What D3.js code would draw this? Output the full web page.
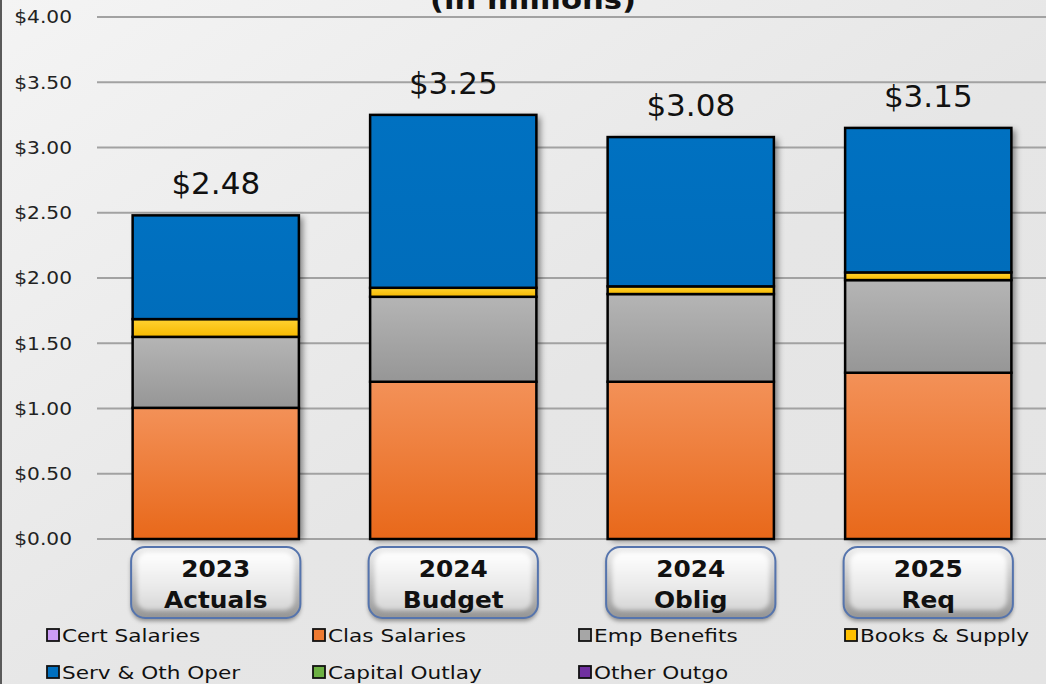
<!DOCTYPE html>
<html>
<head>
<meta charset="utf-8">
<script src="https://cdn.jsdelivr.net/npm/d3@7"></script>
<style>
  html, body { margin: 0; padding: 0; background: #ebebeb; }
  svg { display: block; }
</style>
</head>
<body>
<svg id="chart" width="1046" height="684"></svg>
<script>
// ---- data (in millions of dollars) ----
const categories    = ["2023 Actuals", "2024 Budget", "2024 Oblig", "2025 Req"];
const categoryYears = ["2023", "2024", "2024", "2025"];
const categoryNames = ["Actuals", "Budget", "Oblig", "Req"];

const seriesNames = ["Cert Salaries", "Clas Salaries", "Emp Benefits", "Books & Supply",
                     "Serv & Oth Oper", "Capital Outlay", "Other Outgo"];

const certSalaries  = [0, 0, 0, 0];
const clasSalaries  = [1.005, 1.205, 1.205, 1.274];
const empBenefits   = [0.544, 0.651, 0.672, 0.710];
const booksSupply   = [0.136, 0.069, 0.059, 0.059];
const servOthOper   = [0.795, 1.325, 1.144, 1.107];
const capitalOutlay = [0, 0, 0, 0];
const otherOutgo    = [0, 0, 0, 0];

const yTickValues = [0, 0.5, 1, 1.5, 2, 2.5, 3, 3.5, 4];

// ---- styling ----
const seriesColors = {
  "Cert Salaries":   ["#d2abf7", "#c498ee"],
  "Clas Salaries":   ["#f39158", "#e8681a"],
  "Emp Benefits":    ["#b5b5b5", "#969696"],
  "Books & Supply":  ["#ffd232", "#f6b900"],
  "Serv & Oth Oper": ["#0071c1", "#006dbb"],
  "Capital Outlay":  ["#78b84c", "#62a63a"],
  "Other Outgo":     ["#7a36aa", "#6a2a98"]
};
const legendColors = {
  "Cert Salaries": "#cc9cf6", "Clas Salaries": "#ef7a30", "Emp Benefits": "#a6a6a6",
  "Books & Supply": "#ffc000", "Serv & Oth Oper": "#0070c0", "Capital Outlay": "#6cb043",
  "Other Outgo": "#7030a0"
};
const FONT = "'DejaVu Sans', Verdana, sans-serif";

const seriesValues = [certSalaries, clasSalaries, empBenefits, booksSupply,
                      servOthOper, capitalOutlay, otherOutgo];
const rows = categories.map((c, i) => {
  const r = { category: c };
  seriesNames.forEach((s, k) => { r[s] = seriesValues[k][i]; });
  return r;
});

const W = 1046, H = 684;
const svg = d3.select("#chart");
const defs = svg.append("defs");

// background
const bg = defs.append("linearGradient").attr("id", "bg")
  .attr("x1", 0).attr("y1", 0).attr("x2", 1).attr("y2", 1);
bg.append("stop").attr("offset", "0%").attr("stop-color", "#f4f4f4");
bg.append("stop").attr("offset", "55%").attr("stop-color", "#e6e6e6");
bg.append("stop").attr("offset", "100%").attr("stop-color", "#e4e4e4");
svg.append("rect").attr("width", W).attr("height", H).attr("fill", "url(#bg)");
svg.append("line").attr("x1", 1).attr("x2", 1).attr("y1", 0).attr("y2", H)
  .attr("stroke", "#5a5a5a").attr("stroke-width", 2);

// series gradients
seriesNames.forEach((s, k) => {
  const g = defs.append("linearGradient").attr("id", "grad" + k)
    .attr("x1", 0).attr("y1", 0).attr("x2", 0).attr("y2", 1);
  g.append("stop").attr("offset", "0%").attr("stop-color", seriesColors[s][0]);
  g.append("stop").attr("offset", "100%").attr("stop-color", seriesColors[s][1]);
});

// shadows
const sh = defs.append("filter").attr("id", "barShadow")
  .attr("x", "-10%").attr("y", "-10%").attr("width", "130%").attr("height", "130%");
sh.append("feDropShadow").attr("dx", 4).attr("dy", 2).attr("stdDeviation", 3)
  .attr("flood-color", "#000").attr("flood-opacity", 0.45);
const bsh = defs.append("filter").attr("id", "btnShadow")
  .attr("x", "-10%").attr("y", "-10%").attr("width", "120%").attr("height", "140%");
bsh.append("feDropShadow").attr("dx", 0).attr("dy", 3).attr("stdDeviation", 2)
  .attr("flood-color", "#000").attr("flood-opacity", 0.4);
const soft = defs.append("filter").attr("id", "soft");
soft.append("feGaussianBlur").attr("stdDeviation", 2.2);

// button gradients
const bo = defs.append("linearGradient").attr("id", "btnOuter")
  .attr("x1", 0).attr("y1", 0).attr("x2", 0).attr("y2", 1);
bo.append("stop").attr("offset", "0%").attr("stop-color", "#eeeeee");
bo.append("stop").attr("offset", "100%").attr("stop-color", "#959595");
const bi = defs.append("linearGradient").attr("id", "btnInner")
  .attr("x1", 0).attr("y1", 0).attr("x2", 0).attr("y2", 1);
bi.append("stop").attr("offset", "0%").attr("stop-color", "#ffffff");
bi.append("stop").attr("offset", "60%").attr("stop-color", "#eaeaea");
bi.append("stop").attr("offset", "100%").attr("stop-color", "#d6d6d6");

// ---- scales ----
const x = d3.scaleBand().domain(categories).range([97, 1047])
  .paddingInner(0.3).paddingOuter(0.15);
const y = d3.scaleLinear().domain([0, 4]).range([539, 17]);

// gridlines
svg.append("g").selectAll("line").data(yTickValues).join("line")
  .attr("x1", 97).attr("x2", W)
  .attr("y1", d => y(d)).attr("y2", d => y(d))
  .attr("stroke", "#a2a2a2").attr("stroke-width", 2);

// y axis labels
const yAxisSX = 1.12;
const yAxis = svg.append("g").attr("transform", "translate(97,0)")
  .call(d3.axisLeft(y).tickValues(yTickValues).tickSize(0).tickFormat(d3.format("$.2f")));
yAxis.select(".domain").remove();
yAxis.selectAll("text")
  .attr("x", -25 / yAxisSX)
  .attr("transform", `scale(${yAxisSX},1)`)
  .attr("font-family", FONT).attr("font-size", 18).attr("fill", "#222");

// title (second line, partially above the frame)
svg.append("text")
  .attr("transform", "translate(533,9) scale(1.18,1)")
  .attr("text-anchor", "middle")
  .attr("font-family", FONT).attr("font-weight", "bold").attr("font-size", 26)
  .attr("fill", "#111").text("(in millions)");

// ---- stacked bars ----
const stacked = d3.stack().keys(seriesNames)(rows);
const totals = rows.map(r => d3.sum(seriesNames, s => r[s]));

// shadow behind each full bar
svg.append("g").selectAll("rect").data(rows).join("rect")
  .attr("x", d => x(d.category))
  .attr("y", (d, i) => y(totals[i]))
  .attr("width", x.bandwidth())
  .attr("height", (d, i) => y(0) - y(totals[i]))
  .attr("fill", "#333").attr("filter", "url(#barShadow)");

const barG = svg.append("g");
stacked.forEach((layer, k) => {
  barG.append("g").selectAll("rect")
    .data(layer.filter(d => d[1] - d[0] > 0))
    .join("rect")
    .attr("x", d => x(d.data.category))
    .attr("y", d => y(d[1]))
    .attr("width", x.bandwidth())
    .attr("height", d => y(d[0]) - y(d[1]))
    .attr("fill", `url(#grad${k})`)
    .attr("stroke", "#000").attr("stroke-width", 2.5);
});

// totals above bars
svg.append("g").selectAll("text").data(rows).join("text")
  .attr("x", d => x(d.category) + x.bandwidth() / 2)
  .attr("y", (d, i) => y(totals[i]) - 21)
  .attr("text-anchor", "middle")
  .attr("font-family", FONT).attr("font-size", 31).attr("fill", "#111")
  .text((d, i) => d3.format("$.2f")(totals[i]));

// ---- category buttons ----
const btnH = 71, btnTop = 547;
const catSX = 1.08;
const btn = svg.append("g").selectAll("g").data(categories).join("g")
  .attr("transform", d => `translate(${x(d) + x.bandwidth() / 2},${btnTop})`);
const yearText = btn.append("text")
  .attr("transform", `translate(0,30) scale(${catSX},1)`)
  .attr("text-anchor", "middle")
  .attr("font-family", FONT).attr("font-weight", "bold").attr("font-size", 23).attr("fill", "#111")
  .text((d, i) => categoryYears[i]);
const nameText = btn.append("text")
  .attr("transform", `translate(0,61) scale(${catSX},1)`)
  .attr("text-anchor", "middle")
  .attr("font-family", FONT).attr("font-weight", "bold").attr("font-size", 23).attr("fill", "#111")
  .text((d, i) => categoryNames[i]);
// button frames sized to the band, drawn underneath the labels
btn.each(function () {
  const g = d3.select(this);
  const w = x.bandwidth() + 3;
  g.insert("rect", "text")
    .attr("x", -w / 2).attr("y", 0).attr("width", w).attr("height", btnH)
    .attr("rx", 14).attr("fill", "url(#btnOuter)").attr("filter", "url(#btnShadow)");
  g.insert("rect", "text")
    .attr("x", -w / 2 + 6).attr("y", 5).attr("width", w - 12).attr("height", btnH - 13)
    .attr("rx", 10).attr("fill", "url(#btnInner)").attr("filter", "url(#soft)");
  g.insert("rect", "text")
    .attr("x", -w / 2).attr("y", 0).attr("width", w).attr("height", btnH)
    .attr("rx", 14).attr("fill", "none").attr("stroke", "#5574ad").attr("stroke-width", 2);
});

// ---- legend ----
const legSX = 1.2;
const legend = svg.append("g").selectAll("g").data(seriesNames).join("g")
  .attr("transform", (d, i) => `translate(${47 + (i % 4) * 266},${629 + Math.floor(i / 4) * 37})`);
legend.append("rect")
  .attr("x", 0).attr("y", 0).attr("width", 12).attr("height", 12)
  .attr("fill", d => legendColors[d]).attr("stroke", "#111").attr("stroke-width", 1.8);
legend.append("text")
  .attr("transform", `translate(15,13) scale(${legSX},1)`)
  .attr("font-family", FONT).attr("font-size", 18).attr("fill", "#111")
  .text(d => d);
</script>
</body>
</html>
